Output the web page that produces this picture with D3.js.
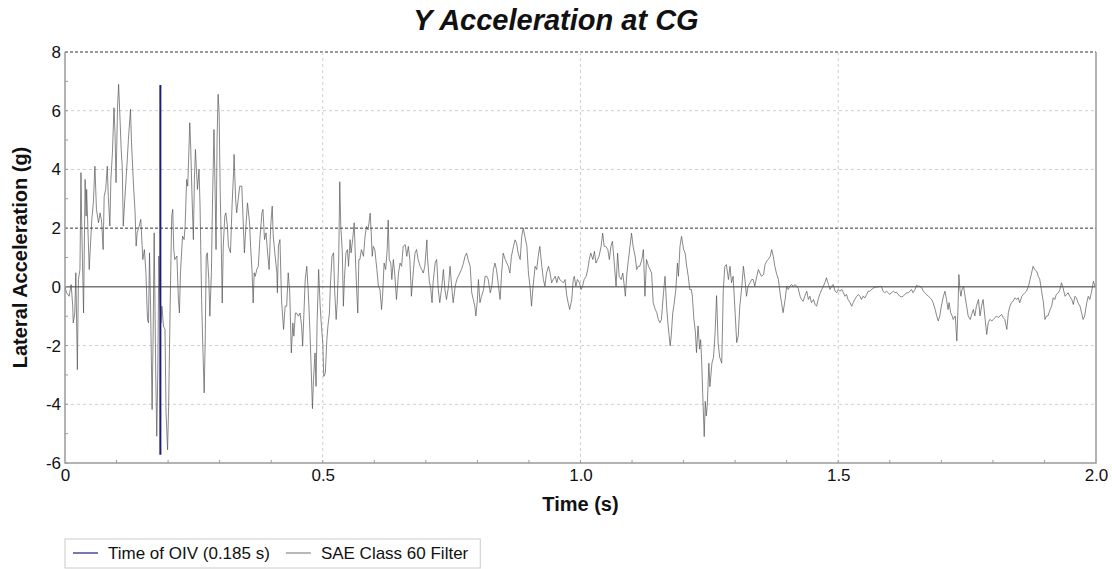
<!DOCTYPE html>
<html>
<head>
<meta charset="utf-8">
<script src="https://cdn.jsdelivr.net/npm/d3@7"></script>
<style>
  body { margin: 0; background: #fff; }
  svg { font-family: Arial, "Liberation Sans", sans-serif; }
</style>
</head>
<body>
<svg width="1112" height="569"></svg>
<script>
var chartTitle = "Y Acceleration at CG",
    xLabel = "Time (s)",
    yLabel = "Lateral Acceleration (g)",
    legendNames = ["Time of OIV (0.185 s)", "SAE Class 60 Filter"];

var xTicks = [0, 0.5, 1.0, 1.5, 2.0],
    yTicks = [-6, -4, -2, 0, 2, 4, 6, 8];

// time of OIV and the extent of its marker line
var oivTime = 0.185,
    oivRange = [-5.72, 6.88];

// (s, g)
var time = [
  0,0.003,0.008,0.012,0.015,0.016,0.019,0.021,0.024,0.026,0.029,0.031,0.032,0.036,0.039,0.041,0.042,0.047,0.052,0.055,
  0.058,0.061,0.065,0.068,0.071,0.074,0.076,0.079,0.082,0.084,0.087,0.089,0.092,0.095,0.097,0.099,0.102,0.104,0.107,0.109,
  0.111,0.113,0.116,0.120,0.123,0.127,0.129,0.133,0.136,0.138,0.140,0.144,0.147,0.151,0.154,0.157,0.160,0.162,0.164,0.166,
  0.169,0.171,0.173,0.176,0.178,0.180,0.182,0.184,0.186,0.188,0.191,0.194,0.196,0.199,0.201,0.204,0.207,0.209,0.211,0.213,
  0.217,0.220,0.222,0.224,0.228,0.231,0.233,0.236,0.238,0.240,0.242,0.244,0.246,0.249,0.251,0.253,0.255,0.257,0.260,0.262,
  0.265,0.267,0.270,0.272,0.274,0.276,0.279,0.281,0.284,0.286,0.289,0.291,0.293,0.295,0.297,0.299,0.301,0.303,0.305,0.307,
  0.310,0.312,0.315,0.317,0.321,0.324,0.327,0.328,0.331,0.333,0.336,0.339,0.343,0.346,0.348,0.351,0.354,0.358,0.360,0.363,
  0.365,0.367,0.369,0.372,0.375,0.378,0.382,0.384,0.387,0.390,0.393,0.396,0.399,0.402,0.404,0.407,0.411,0.412,0.414,0.417,
  0.420,0.424,0.427,0.430,0.433,0.436,0.439,0.442,0.444,0.447,0.449,0.453,0.456,0.459,0.461,0.464,0.466,0.469,0.472,0.475,
  0.477,0.480,0.482,0.485,0.487,0.489,0.492,0.495,0.497,0.500,0.502,0.505,0.508,0.510,0.513,0.515,0.518,0.521,0.523,0.526,
  0.528,0.531,0.533,0.535,0.538,0.540,0.542,0.545,0.548,0.550,0.553,0.555,0.558,0.561,0.563,0.566,0.568,0.570,
  0.572,0.575,0.579,0.582,0.585,0.588,0.592,0.594,0.596,0.598,0.601,0.605,0.608,0.611,0.614,0.616,0.619,0.622,0.625,0.627,
  0.629,0.632,0.634,0.637,0.640,0.643,0.647,0.650,0.653,0.656,0.660,0.663,0.666,0.669,0.672,0.676,0.679,0.682,0.685,0.689,
  0.692,0.695,0.698,0.702,0.703,0.707,0.709,0.712,0.714,0.718,0.721,0.724,0.727,0.731,0.734,0.737,0.740,0.744,0.747,0.750,
  0.753,0.757,0.760,0.763,0.766,0.769,0.773,0.776,0.779,0.782,0.786,0.789,0.792,0.795,0.797,0.800,0.802,0.805,0.808,0.812,
  0.815,0.818,0.821,0.825,0.828,0.831,0.834,0.837,0.841,0.844,0.847,0.850,0.854,0.857,0.860,0.863,0.866,0.870,0.873,0.876,
  0.879,0.883,0.886,0.889,0.892,0.896,0.899,0.902,0.905,0.908,0.912,0.915,0.918,0.921,0.925,0.928,0.931,0.934,0.938,0.941,
  0.944,0.947,0.951,0.954,0.957,
  0.960,0.963,0.967,0.970,0.973,0.976,0.979,0.983,0.986,0.988,0.991,0.994,0.998,1.001,1.004,1.007,1.011,1.014,1.017,1.020,
  1.024,1.027,1.030,1.033,1.036,1.040,1.043,1.046,1.049,1.053,1.056,1.059,1.062,1.066,1.069,1.072,1.075,1.079,1.082,1.085,
  1.087,1.090,1.093,1.096,1.099,1.102,1.106,1.109,1.112,1.115,1.119,1.122,1.125,1.128,1.132,1.135,1.138,1.141,1.145,1.148,
  1.151,1.154,1.157,1.161,1.164,1.167,1.170,1.174,1.176,1.179,1.181,1.185,1.188,1.190,1.193,1.196,1.200,1.203,1.206,1.209,
  1.212,1.215,1.217,1.220,1.223,1.225,1.228,1.231,1.233,1.235,1.237,1.240,1.242,1.244,1.246,1.249,1.251,1.255,1.258,1.261,
  1.264,1.267,1.270,1.274,1.277,1.280,1.283,1.287,1.290,1.293,1.296,1.300,1.303,1.306,1.309,1.313,1.316,1.319,1.322,1.325,
  1.329,1.332,1.335,1.338,1.342,1.345,
  1.348,1.351,1.355,1.358,1.361,1.364,1.368,1.371,1.374,1.377,1.380,1.384,1.387,1.390,1.393,1.397,1.400,1.403,1.406,1.409,
  1.413,1.416,1.419,1.422,1.426,1.429,1.432,1.435,1.439,1.442,1.445,1.448,1.452,1.455,1.458,1.461,1.464,1.468,1.471,1.474,
  1.477,1.481,1.484,1.487,1.490,1.494,1.497,1.500,1.503,1.507,1.510,1.513,1.516,1.519,1.523,1.526,1.529,1.532,1.536,1.539,
  1.542,1.545,1.548,1.552,1.555,1.558,1.561,1.565,1.568,1.571,1.574,1.578,1.581,1.584,1.587,1.590,1.594,1.597,1.600,1.603,
  1.607,1.610,1.613,1.616,1.620,1.623,1.626,1.629,1.633,1.636,1.639,1.642,1.645,1.649,1.652,1.655,1.658,1.662,1.665,1.668,
  1.671,1.675,1.678,1.681,1.684,1.688,1.691,1.694,1.697,1.700,1.704,1.707,1.710,1.713,1.715,1.718,1.721,1.723,1.727,1.730,
  1.732,1.734,1.736,1.738,1.740,1.743,1.746,1.749,1.752,1.756,1.759,1.762,1.765,1.768,1.772,1.775,1.778,1.781,1.785,1.788,
  1.791,1.794,1.798,1.801,1.804,1.807,1.810,1.814,1.817,1.820,1.823,1.827,1.830,1.833,1.836,1.839,1.843,1.846,1.849,1.852,
  1.856,1.859,1.862,1.865,1.869,1.872,1.875,1.878,1.881,1.885,1.888,1.891,1.894,1.898,1.901,1.904,1.907,1.911,1.914,1.917,
  1.920,1.923,1.927,1.930,1.933,1.936,1.940,1.943,1.946,1.949,1.953,1.956,1.959,1.962,1.965,1.969,1.972,1.975,1.978,1.982,
  1.985,1.988,1.991,1.995,1.998
];

var accel = [
  0,-0.20,-0.32,0.08,-0.66,-1.23,-0.89,0.48,-2.82,0.25,0.59,3.89,2.52,-0.89,3.66,2.41,3.32,0.59,2.30,2.86,
  4.11,2.64,2.18,2.52,2.24,1.27,3.09,3.32,4.11,3.09,2.07,3.66,4.57,6.10,5.25,3.55,6.16,6.90,5.59,4.68,
  4.11,2.07,2.98,4.11,5.02,6.05,4.91,3.43,2.52,1.39,1.84,2.07,2.30,0.93,1.27,0.48,-1.11,-1.23,1.16,-0.66,
  -4.18,-1.57,1.84,-2.93,-5.09,-2.93,1.05,-0.20,-1.23,-0.66,-1.34,-1.45,-4.30,-5.55,-4.07,-0.66,2.41,2.64,1.27,0.93,
  1.05,-0.43,-0.89,0.48,1.73,1.61,2.07,3.66,3.43,4.45,5.59,4.68,3.32,1.61,3.66,4.68,4.00,3.32,4.00,2.75,
  -0.43,-1.80,-3.61,-1.80,1.05,1.16,0.25,-1.00,0.48,2.75,5.36,3.43,1.27,5.02,6.56,5.93,3.32,1.61,-0.55,1.39,
  2.41,2.52,2.07,1.39,1.16,2.75,3.89,4.51,2.98,2.52,2.98,3.43,3.43,2.07,1.16,2.07,2.86,2.18,1.39,0.48,
  -0.55,0.48,0.36,0.59,0.70,1.61,2.52,2.64,1.61,1.84,1.16,0.59,2.07,2.75,1.73,1.16,0.48,-0.20,1.39,1.61,
  -0.43,-1.45,-0.66,-0.66,0.48,-0.20,-2.25,-1.23,-1.68,-0.89,-0.89,-1.00,-0.89,-1.34,-2.02,-0.66,0.25,0.70,-0.20,-1.45,
  -2.48,-4.15,-3.16,-2.25,-3.39,-1.23,0.59,-0.66,-1.23,-1.91,-3.05,-2.93,-1.80,-1.34,-0.89,0.14,1.05,1.16,-0.09,-1.11,
  -0.55,0.93,3.58,2.07,1.16,-0.66,0.25,1.16,1.27,0.70,1.61,1.16,1.61,2.18,1.16,-0.20,-0.89,0.93,
  0.93,1.27,1.04,1.72,2.06,1.94,2.51,1.83,1.04,1.38,1.27,0.59,0.02,-0.09,-0.77,-0.32,0.81,0.59,1.27,2.28,
  0.93,0.81,0.25,0.93,0.36,-0.43,0.47,0.81,0.70,1.38,1.44,1.04,1.38,0.93,-0.32,0.59,1.15,1.27,0.93,0.70,
  0.59,0.47,0.70,1.60,1.04,0.14,0.02,-0.54,0.14,0.81,0.93,-0.09,-0.54,0.02,0.59,-0.09,-0.43,0.02,0.70,0.02,
  -0.54,0.02,0.25,0.36,0.47,0.59,0.81,1.04,1.15,0.93,0.70,-0.20,-0.43,-0.66,-0.99,-0.43,0.25,-0.54,-0.32,-0.09,
  0.36,0.36,0.25,-0.20,0.02,0.59,0.81,0.59,0.02,-0.43,0.47,1.15,0.93,0.81,0.70,0.47,1.04,1.38,1.60,1.49,
  1.15,0.93,1.72,2.00,1.72,1.38,0.47,0.02,-0.66,0.02,0.70,0.59,1.04,1.38,0.70,0.25,0.02,0.47,0.70,0.47,
  0.14,0.25,0.36,0.14,0.36,
  0.25,0.19,0.14,0.25,-0.26,-0.54,-0.77,-0.43,0.25,0.36,0.02,0.25,0.14,-0.09,0.02,0.25,0.36,0.59,0.93,1.15,
  0.93,1.21,0.81,0.93,1.04,1.38,1.83,1.38,1.38,1.27,0.93,1.38,1.55,0.70,0.02,1.15,0.36,0.25,0.47,0.02,
  -0.32,0.47,0.93,1.38,1.83,1.38,1.04,0.59,0.70,0.70,0.93,1.27,-0.32,0.93,0.70,0.59,0.47,-0.54,-0.77,-0.88,
  -1.11,-1.22,-1.11,-0.20,0.36,-0.66,-1.33,-2.01,-1.67,-0.88,-0.66,-0.09,0.81,0.36,1.38,1.72,1.27,1.15,0.70,0.36,
  -0.09,-0.09,-0.32,-1.11,-1.56,-2.24,-1.33,-2.12,-1.80,-2.50,-3.60,-5.10,-3.90,-4.40,-4.00,-2.60,-3.40,-2.60,-2.40,-1.60,
  -0.30,-1.90,-2.40,-2.60,-0.10,0.70,0.76,0.25,0.70,0.14,0.36,-0.88,-1.90,-1.67,-0.66,0.02,0.70,0.25,-0.32,0.02,
  0.14,0.25,0.25,0.02,0.36,0.59,
  0.47,0.36,0.42,0.76,0.87,0.93,1.04,1.27,1.04,0.70,0.47,0.25,-0.20,-0.54,-0.88,-0.43,0.02,-0.09,0.02,0.08,
  0.02,0.08,0.02,-0.03,-0.32,-0.43,-0.49,-0.32,-0.15,-0.43,-0.32,-0.54,-0.43,-0.60,-0.66,-0.43,-0.26,-0.09,0.02,0.14,
  0.31,0.08,-0.09,0.02,0.08,-0.15,-0.20,-0.09,-0.15,-0.09,-0.20,-0.32,-0.26,-0.43,-0.54,-0.66,-0.54,-0.43,-0.32,-0.26,
  -0.32,-0.43,-0.32,-0.37,-0.26,-0.15,-0.15,-0.09,-0.03,-0.03,0.00,0.00,0.02,0.00,-0.15,-0.20,-0.15,-0.20,-0.26,-0.20,
  -0.15,-0.20,-0.18,-0.26,-0.32,-0.34,-0.32,-0.26,-0.20,-0.20,-0.15,-0.09,-0.20,-0.09,0.05,0.02,0.02,-0.03,-0.15,-0.20,
  -0.26,-0.32,-0.37,-0.43,-0.54,-0.77,-0.99,-1.16,-0.99,-0.66,-0.32,-0.15,-0.43,-0.77,-0.54,-0.88,-0.99,-1.11,-0.99,-1.84,
  -0.88,0.42,-0.09,-0.32,-0.09,0.02,-0.32,-0.66,-0.99,-1.11,-0.94,-0.77,-0.99,-0.66,-0.43,-0.99,-0.66,-0.43,-1.11,-1.62,
  -1.22,-1.11,-1.16,-1.11,-1.05,-0.99,-1.05,-0.99,-0.94,-1.05,-1.11,-1.45,-0.88,-0.66,-0.54,-0.49,-0.37,-0.43,-0.37,-0.54,
  -0.32,-0.26,-0.20,-0.15,0.02,0.25,0.47,0.70,0.59,0.53,0.36,0.25,-0.09,-0.54,-1.11,-0.99,-0.99,-0.77,-0.66,-0.37,
  -0.43,-0.26,-0.20,-0.09,0.14,-0.03,-0.32,-0.26,-0.20,-0.32,-0.43,-0.60,-0.32,-0.37,-0.54,-0.66,-0.88,-1.11,-0.99,-0.54,
  -0.32,-0.43,-0.20,0.19,0.02
];

var svg = d3.select("svg"),
    margin = {top: 52, right: 16, bottom: 106, left: 65},
    width = 1112 - margin.left - margin.right,
    height = 569 - margin.top - margin.bottom,
    g = svg.append("g").attr("transform", "translate(" + margin.left + "," + margin.top + ")");

var x = d3.scaleLinear().domain([0, 2]).range([0, width]),
    y = d3.scaleLinear().domain([-6, 8]).range([height, 0]);

// grid lines, 2 and 8 are drawn darker like the original
g.append("g").selectAll("line")
  .data(yTicks.filter(function(d) { return d != 0 && d != -6; }))
  .enter().append("line")
    .attr("x1", 0).attr("x2", width)
    .attr("y1", function(d) { return y(d); })
    .attr("y2", function(d) { return y(d); })
    .attr("stroke", function(d) { return (d == 2 || d == 8) ? "#333" : "#cfcfcf"; })
    .attr("stroke-dasharray", function(d) { return (d == 2 || d == 8) ? "3,2" : "3,3"; })
    .attr("stroke-width", 1);

g.append("g").selectAll("line")
  .data(xTicks.filter(function(d) { return d > 0 && d < 2; }))
  .enter().append("line")
    .attr("y1", 0).attr("y2", height)
    .attr("x1", function(d) { return x(d); })
    .attr("x2", function(d) { return x(d); })
    .attr("stroke", "#cfcfcf")
    .attr("stroke-dasharray", "3,3");

// zero line
g.append("line")
  .attr("x1", 0).attr("x2", width)
  .attr("y1", y(0)).attr("y2", y(0))
  .attr("stroke", "#333").attr("stroke-width", 1);

// signal
var line = d3.line()
  .x(function(d, i) { return x(time[i]); })
  .y(function(d) { return y(d); });

g.append("path")
  .datum(accel)
  .attr("fill", "none")
  .attr("stroke", "#555")
  .attr("stroke-width", 0.7)
  .attr("d", line);

// OIV marker
g.append("line")
  .attr("x1", x(oivTime)).attr("x2", x(oivTime))
  .attr("y1", y(oivRange[1])).attr("y2", y(oivRange[0]))
  .attr("stroke", "#1c1c7c")
  .attr("stroke-width", 2);

// frame: left, bottom, right
g.append("path")
  .attr("d", "M0,0V" + height + "H" + width + "V0")
  .attr("fill", "none")
  .attr("stroke", "#9a9a9a")
  .attr("stroke-width", 1.5);

// axes
var yAxis = d3.axisLeft(y).tickValues(yTicks).tickSize(0).tickPadding(4)
      .tickFormat(function(d) { return String(d); }),
    xAxis = d3.axisBottom(x).tickValues(xTicks).tickSize(0).tickPadding(6)
      .tickFormat(function(d) { return d == 0 ? "0" : d.toFixed(1); });

var ya = g.append("g").call(yAxis);
var xa = g.append("g").attr("transform", "translate(0," + height + ")").call(xAxis);
[ya, xa].forEach(function(a) {
  a.select(".domain").remove();
  a.selectAll("text").attr("font-size", 17).attr("fill", "#111")
    .attr("font-family", "Arial, 'Liberation Sans', sans-serif");
});

// minor ticks
g.append("g").selectAll("line")
  .data(d3.range(-6, 8.01, 1))
  .enter().append("line")
    .attr("x1", 0).attr("x2", 3)
    .attr("y1", function(d) { return y(d); })
    .attr("y2", function(d) { return y(d); })
    .attr("stroke", "#9a9a9a");

g.append("g").selectAll("line")
  .data(d3.range(0.1, 2, 0.1))
  .enter().append("line")
    .attr("y1", height).attr("y2", height - 3)
    .attr("x1", function(d) { return x(d); })
    .attr("x2", function(d) { return x(d); })
    .attr("stroke", "#9a9a9a");

// titles
svg.append("text")
  .attr("x", 556).attr("y", 30)
  .attr("text-anchor", "middle")
  .attr("font-size", 29).attr("font-weight", "bold").attr("font-style", "italic")
  .attr("fill", "#111")
  .text(chartTitle);

svg.append("text")
  .attr("x", margin.left + width / 2).attr("y", 511)
  .attr("text-anchor", "middle")
  .attr("font-size", 20).attr("font-weight", "bold")
  .attr("fill", "#111")
  .text(xLabel);

svg.append("text")
  .attr("transform", "translate(27," + (margin.top + height / 2) + ") rotate(-90)")
  .attr("text-anchor", "middle")
  .attr("font-size", 20).attr("font-weight", "bold")
  .attr("fill", "#111")
  .text(yLabel);

// legend
var legend = svg.append("g").attr("transform", "translate(65,539)");
var box = legend.append("rect")
  .attr("fill", "none").attr("stroke", "#cccccc");

var colors = ["#1c1c7c", "#8a8a8a"],
    xpos = 8;
legendNames.forEach(function(name, i) {
  legend.append("line")
    .attr("x1", xpos).attr("x2", xpos + 25)
    .attr("y1", 14).attr("y2", 14)
    .attr("stroke", colors[i]).attr("stroke-width", 1.2);
  var t = legend.append("text")
    .attr("x", xpos + 35).attr("y", 20)
    .attr("font-size", 17).attr("fill", "#111")
    .text(name);
  xpos += 35 + t.node().getComputedTextLength() + 16;
});
box.attr("width", xpos - 4).attr("height", 29);
</script>
</body>
</html>
